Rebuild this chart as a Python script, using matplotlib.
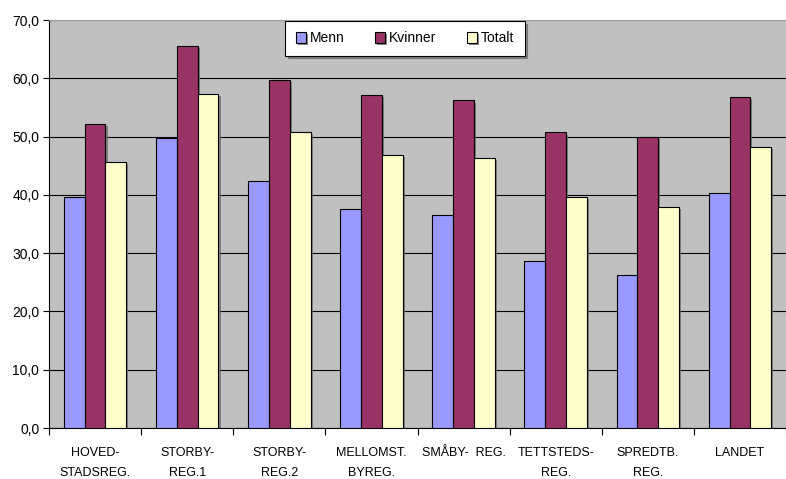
import matplotlib
matplotlib.use("Agg")
import matplotlib.pyplot as plt
import matplotlib.patheffects as pe
import numpy as np
from matplotlib import font_manager

categories = ["HOVED-\nSTADSREG.", "STORBY-\nREG.1", "STORBY-\nREG.2", "MELLOMST.\nBYREG.",
              "SMÅBY-  REG.", "TETTSTEDS-\nREG.", "SPREDTB.\nREG.", "LANDET"]
series_names = ["Menn", "Kvinner", "Totalt"]
menn = [39.7, 49.8, 42.4, 37.6, 36.6, 28.6, 26.3, 40.3]
kvinner = [52.2, 65.6, 59.7, 57.2, 56.2, 50.7, 49.9, 56.8]
totalt = [45.7, 57.3, 50.8, 46.9, 46.4, 39.7, 38.0, 48.2]
yticks = [0, 10, 20, 30, 40, 50, 60, 70]
ytick_labels = ["0,0", "10,0", "20,0", "30,0", "40,0", "50,0", "60,0", "70,0"]
colors = ["#9999FF", "#993366", "#FFFFCC"]

avail = {f.name for f in font_manager.fontManager.ttflist}
fam = "Liberation Sans Narrow" if "Liberation Sans Narrow" in avail else "Liberation Sans"
plt.rcParams['font.family'] = [fam, 'DejaVu Sans']

fig = plt.figure(figsize=(7.86, 4.79), dpi=100)
ax = fig.add_axes([49/786, 1-428/479, 1-49/786, (428-20)/479])
ax.set_facecolor("#C0C0C0")

x = np.arange(len(categories))
w = 0.226
shadow = [pe.SimplePatchShadow(offset=(1.5, -1.5), shadow_rgbFace="#707070", alpha=0.8), pe.Normal()]
for i, (vals, c, name) in enumerate(zip([menn, kvinner, totalt], colors, series_names)):
    bars = ax.bar(x + (i-1)*w, vals, w, color=c, edgecolor="black", linewidth=0.8, label=name, zorder=3)
    for b in bars:
        b.set_path_effects(shadow)

ax.set_xlim(-0.5, len(categories)-0.5)
ax.set_ylim(0, 70)
ax.set_yticks(yticks)
ax.set_yticklabels(ytick_labels, fontsize=10)
ax.yaxis.grid(True, color="black", linewidth=0.8, zorder=1)
ax.set_axisbelow(True)
ax.set_xticks(x)
ax.set_xticklabels(categories, fontsize=9, linespacing=1.8)
ax.tick_params(axis='x', length=0, pad=14)
ax.set_xticks(np.arange(-0.5, len(categories)), minor=True)
ax.tick_params(axis='x', which='minor', length=5, width=0.8, direction='out')
ax.tick_params(axis='y', length=4, width=0.8, direction='out', pad=3)
ax.spines['top'].set_color("#A0A0A0")
ax.spines['right'].set_visible(False)
ax.spines['left'].set_linewidth(0.8)
ax.spines['bottom'].set_linewidth(0.8)

leg = ax.legend(loc="upper center", bbox_to_anchor=(0.483, 0.998), ncol=3, fontsize=10,
                frameon=True, fancybox=False, edgecolor="black", framealpha=1,
                handlelength=0.7, handleheight=0.9, handletextpad=0.3, columnspacing=2.2,
                borderpad=0.75, borderaxespad=0.0, shadow=True)
leg.get_frame().set_linewidth(0.8)

fig.savefig("out.png", dpi=100, facecolor="white")
